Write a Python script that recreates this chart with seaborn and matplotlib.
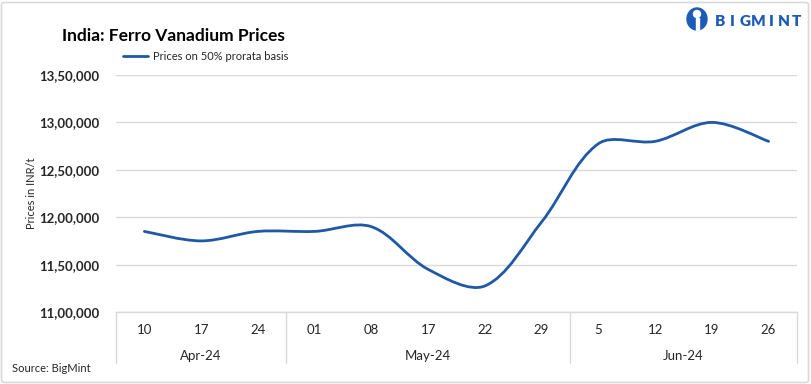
import numpy as np
import seaborn as sns
import matplotlib.pyplot as plt
from matplotlib.path import Path
from matplotlib.patches import PathPatch, FancyBboxPatch, Ellipse, Rectangle
from matplotlib.lines import Line2D
import matplotlib.transforms as mtransforms

# ---- data ----
days = ['10', '17', '24', '01', '08', '17', '22', '29', '5', '12', '19', '26']
months = ['Apr-24', 'May-24', 'Jun-24']
month_sizes = [3, 5, 4]
prices = [1185000, 1175000, 1185000, 1185000, 1190000, 1145000,
          1127500, 1195000, 1277500, 1280000, 1300000, 1280000]
y_ticks = [1100000, 1150000, 1200000, 1250000, 1300000, 1350000]

LINE_COL = '#1f58a6'
GRID_COL = '#d9d9d9'
TXT_COL = '#262626'
LOGO_COL = '#1c5bb8'

sns.set_theme(style='white')
plt.rcParams['font.family'] = ['Lato', 'DejaVu Sans']


def indian_fmt(v):
    s = str(int(v))
    head, tail = s[:-3], s[-3:]
    parts = []
    while len(head) > 2:
        parts.insert(0, head[-2:])
        head = head[:-2]
    if head:
        parts.insert(0, head)
    return ','.join(parts + [tail])


def smooth_path(xs, ys, sx, sy):
    # excel-like smoothed line: bezier segments, tangents scaled by segment lengths
    P = np.column_stack([np.asarray(xs, float) * sx, np.asarray(ys, float) * sy])
    n = len(P)
    verts = [P[0]]
    codes = [Path.MOVETO]
    for i in range(n - 1):
        p0 = P[i - 1] if i > 0 else P[i]
        p1, p2 = P[i], P[i + 1]
        p3 = P[i + 2] if i + 2 < n else P[i + 1]
        d1 = np.linalg.norm(p1 - p0)
        d2 = np.linalg.norm(p2 - p1)
        d3 = np.linalg.norm(p3 - p2)
        f1 = d2 / (d1 + d2) / 3 if d1 > 0 else 1 / 6
        f2 = d2 / (d2 + d3) / 3 if d3 > 0 else 1 / 6
        c1 = p1 + (p2 - p0) * f1
        c2 = p2 - (p3 - p1) * f2
        verts += [c1, c2, p2]
        codes += [Path.CURVE4] * 3
    verts = np.array(verts)
    verts[:, 0] /= sx
    verts[:, 1] /= sy
    return Path(verts, codes)


W, H = 812, 384
fig = plt.figure(figsize=(W / 100, H / 100), dpi=100)
fig.patch.set_facecolor('white')

ax_l, ax_r, ax_t, ax_b = 116, 797, 75, 312
ax = fig.add_axes([ax_l / W, (H - ax_b) / H, (ax_r - ax_l) / W, (ax_b - ax_t) / H])

x = np.arange(len(days))
ax.set_xlim(-0.5, len(days) - 0.5)
ax.set_ylim(y_ticks[0], y_ticks[-1])

# smooth price line
sx = (ax_r - ax_l) / len(days)
sy = (ax_b - ax_t) / (y_ticks[-1] - y_ticks[0])
ax.add_patch(PathPatch(smooth_path(x, prices, sx, sy), fill=False,
                       edgecolor=LINE_COL, lw=2.0, capstyle='round', zorder=3))

ax.set_yticks(y_ticks)
ax.set_yticklabels([indian_fmt(v) for v in y_ticks], fontweight='bold',
                   fontsize=9.5, color=TXT_COL)
ax.tick_params(axis='y', length=0, pad=12)
ax.set_xticks([])
ax.yaxis.grid(True, color=GRID_COL, lw=1)
ax.set_axisbelow(True)
sns.despine(ax=ax, left=True, top=True, right=True)
ax.spines['bottom'].set_color(GRID_COL)
ax.spines['bottom'].set_linewidth(1)

# two-level category axis
trans = mtransforms.blended_transform_factory(ax.transData, ax.transAxes)
row1 = -(330 - ax_b) / (ax_b - ax_t)
row2 = -(356 - ax_b) / (ax_b - ax_t)
sep_bot = -(363 - ax_b) / (ax_b - ax_t)
for xi, d in zip(x, days):
    ax.text(xi, row1, d, transform=trans, ha='center', va='center',
            fontsize=9.5, color=TXT_COL)
start = 0
edges = [-0.5]
for m, size in zip(months, month_sizes):
    ax.text(start + (size - 1) / 2, row2, m, transform=trans, ha='center',
            va='center', fontsize=9.5, color=TXT_COL)
    start += size
    edges.append(start - 0.5)
for e in edges:
    ax.add_line(Line2D([e, e], [0, sep_bot], transform=trans, color=GRID_COL,
                       lw=1, clip_on=False))

# titles and labels
fig.text(62 / W, 1 - 36 / H, 'India: Ferro Vanadium Prices', fontsize=12.5,
         fontweight='bold', color='black', va='center', ha='left')
fig.add_artist(Line2D([123 / W, 148 / W], [1 - 56 / H, 1 - 56 / H],
                      color=LINE_COL, lw=2.0, transform=fig.transFigure))
fig.text(153 / W, 1 - 56 / H, 'Prices on 50% prorata basis', fontsize=8,
         color=TXT_COL, va='center', ha='left')
fig.text(32 / W, 1 - 193 / H, 'Prices in INR/t', rotation=90, fontsize=8,
         color=TXT_COL, va='center', ha='center')
fig.text(12 / W, 1 - 368 / H, 'Source: BigMint', fontsize=8,
         color=TXT_COL, va='center', ha='left')

# logo
letters = 'BIGMINT'
for i, ch in enumerate(letters):
    fig.text((720 + i * 12.8) / W, 1 - 21 / H, ch, fontsize=11, fontweight='heavy',
             color=LOGO_COL, ha='center', va='center')
fig.add_artist(Ellipse((697 / W, 1 - 19 / H), 20 / W, 22 / H, color=LOGO_COL,
                       transform=fig.transFigure))
fig.add_artist(Ellipse((697 / W, 1 - 14 / H), 7 / W, 7 / H, color='white',
                       transform=fig.transFigure))
fig.add_artist(Rectangle((695.5 / W, 1 - 30 / H), 3 / W, 12 / H, color='white',
                         transform=fig.transFigure))

# outer frame
fig.add_artist(FancyBboxPatch((1.5 / W, 1.5 / H), (W - 5) / W, (H - 4) / H,
                              boxstyle='round,pad=0,rounding_size=0.005',
                              fill=False, edgecolor=GRID_COL, lw=1.2,
                              transform=fig.transFigure))

fig.savefig('out.png', dpi=100)
